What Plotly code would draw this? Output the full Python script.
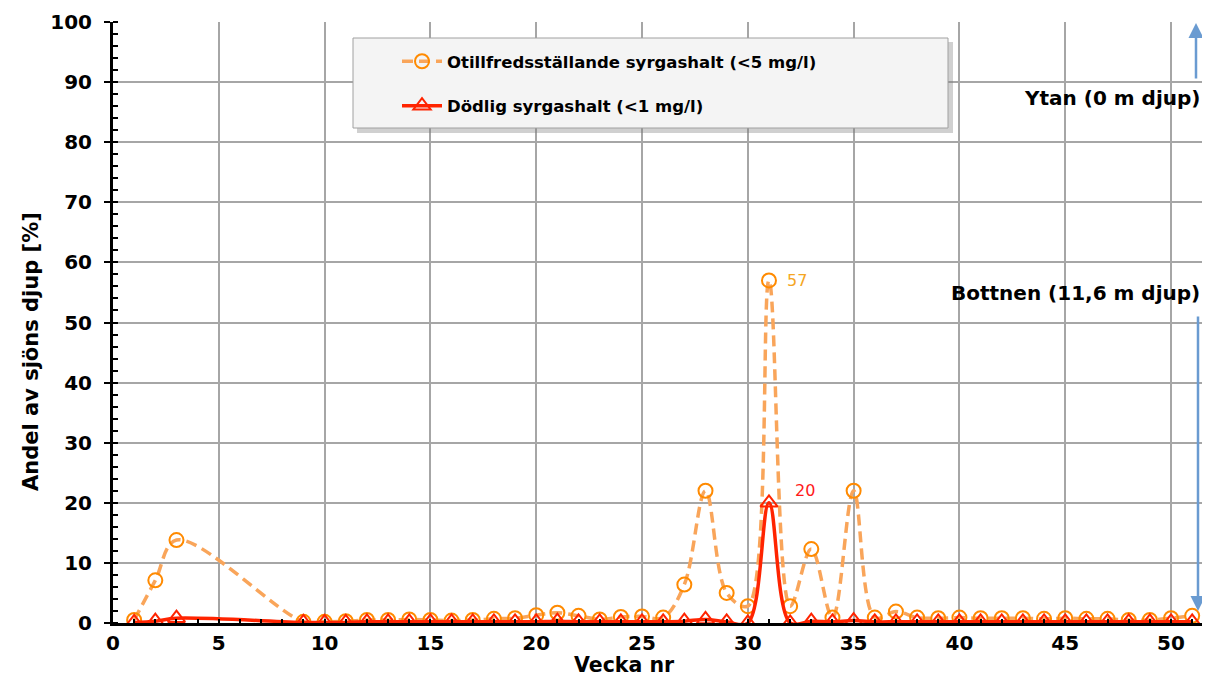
import plotly.graph_objects as go

weeks = [1, 2, 3, 9, 10, 11, 12, 13, 14, 15, 16, 17, 18, 19, 20, 21, 22, 23, 24, 25, 26,
         27, 28, 29, 30, 31, 32, 33, 34, 35, 36, 37, 38, 39, 40, 41, 42, 43, 44, 45, 46,
         47, 48, 49, 50, 51]
otillfreds = [0.5, 7.1, 13.8, 0.2, 0.2, 0.3, 0.5, 0.5, 0.6, 0.5, 0.4, 0.5, 0.7, 0.8, 1.3, 1.7,
              1.2, 0.6, 1.0, 1.1, 0.9, 6.4, 22.0, 5.0, 2.8, 57.0, 2.8, 12.3, 0.9, 22.0, 0.9,
              1.9, 0.9, 0.8, 0.9, 0.8, 0.8, 0.8, 0.7, 0.8, 0.7, 0.7, 0.5, 0.5, 0.8, 1.2]
dodlig = [0.1, 0.3, 0.8, 0.1, 0.1, 0.1, 0.2, 0.2, 0.2, 0.2, 0.2, 0.2, 0.2, 0.2, 0.2, 0.3,
          0.2, 0.2, 0.2, 0.2, 0.2, 0.3, 0.6, 0.2, 0.0, 20.0, 0.0, 0.3, 0.2, 0.4, 0.2,
          0.2, 0.2, 0.2, 0.2, 0.2, 0.2, 0.2, 0.2, 0.2, 0.2, 0.2, 0.2, 0.2, 0.2, 0.2]

name_o = "Otillfredsställande syrgashalt (<5 mg/l)"
name_d = "Dödlig syrgashalt (<1 mg/l)"
peak_o_label = "57"
peak_d_label = "20"
x_title = "Vecka nr"
y_title = "Andel av sjöns djup [%]"
FONT = "DejaVu Sans"

fig = go.Figure()
fig.add_trace(go.Scatter(
    x=weeks, y=otillfreds, name=name_o, mode="lines+markers",
    line=dict(color="#f9a55a", width=3.5, dash="11px,6px", shape="spline", smoothing=1),
    marker=dict(symbol="circle-open", size=14, color="#ff8a00", line=dict(width=2, color="#ff8a00")),
    legendgroup="a",
))
fig.add_trace(go.Scatter(
    x=weeks, y=dodlig, name=name_d, mode="lines+markers",
    line=dict(color="#ff2400", width=3.5, shape="spline", smoothing=1),
    marker=dict(symbol="triangle-up-open", size=15, color="#ff2400", line=dict(width=2, color="#ff2400")),
    legendgroup="b",
))

# page offset (body margin of 8px on each side)
OFF = 8
W, H = 1210 - 2 * OFF, 686 - 2 * OFF
PL, PR, PT, PB = 113, 1202, 22, 623  # plot area in page pixels
L, R, T, B = PL - OFF, W - (PR - OFF), PT - OFF, H - (PB - OFF)
pw, ph = PR - PL, PB - PT
XMAX = 51.7 * (PR - PL) / (1207 - PL)

def px(xp):
    return (xp - PL) / pw

def py(yp):
    return (PB - yp) / ph

shapes = [
    dict(type="rect", xref="paper", yref="paper", x0=px(357), x1=px(953), y0=py(133), y1=py(42),
         fillcolor="rgba(120,120,120,0.35)", line=dict(width=0), layer="above"),
    dict(type="rect", xref="paper", yref="paper", x0=px(353), x1=px(948), y0=py(128), y1=py(38),
         fillcolor="#f4f4f4", line=dict(color="#a0a0a0", width=1), layer="above"),
]

annotations = [
    dict(x=31, y=57, xref="x", yref="y", text=peak_o_label, showarrow=False, xanchor="left",
         xshift=16, font=dict(family=FONT, size=16, color="#f5a623")),
    dict(x=31, y=20, xref="x", yref="y", text=peak_d_label, showarrow=False, xanchor="left",
         xshift=24, yshift=12, font=dict(family=FONT, size=16, color="#ff1a1a")),
    dict(x=1.0, y=py(98), xref="paper", yref="paper", text="<b>Ytan (0 m djup)</b>", showarrow=False,
         xanchor="right", yanchor="middle", font=dict(family=FONT, size=20, color="black")),
    dict(x=1.0, y=py(293), xref="paper", yref="paper", text="<b>Bottnen (11,6 m djup)</b>", showarrow=False,
         xanchor="right", yanchor="middle", font=dict(family=FONT, size=20, color="black")),
    dict(x=px(1196), y=py(23), xref="paper", yref="paper", ax=0, ay=57, text="", showarrow=True,
         arrowhead=2, arrowsize=1.2, arrowwidth=2.5, arrowcolor="#6a9bd1"),
    dict(x=px(1198), y=py(611), xref="paper", yref="paper", ax=0, ay=-296, text="", showarrow=True,
         arrowhead=2, arrowsize=1.2, arrowwidth=2.5, arrowcolor="#6a9bd1"),
    dict(x=px(624), y=py(678), xref="paper", yref="paper", text="<b>" + x_title + "</b>", showarrow=False,
         xanchor="center", yanchor="bottom", borderpad=0,
         font=dict(family=FONT, size=20.5, color="black")),
    dict(x=px(31), y=py(351), xref="paper", yref="paper", text="<b>" + y_title + "</b>", showarrow=False,
         textangle=-90, xanchor="center", yanchor="middle", font=dict(family=FONT, size=21, color="black")),
]

fig.update_layout(
    width=W, height=H,
    margin=dict(l=L, r=R, t=T, b=B),
    paper_bgcolor="white", plot_bgcolor="white",
    font=dict(family=FONT, size=18, color="black"),
    showlegend=True,
    legend=dict(x=px(397), y=py(44), xanchor="left", yanchor="top", bgcolor="rgba(0,0,0,0)",
                font=dict(family=FONT, size=16.5, color="black", weight="bold"),
                tracegroupgap=20, traceorder="grouped", itemwidth=40),
    shapes=shapes,
    annotations=annotations,
    xaxis=dict(range=[0, XMAX], tickvals=[0, 5, 10, 15, 20, 25, 30, 35, 40, 45, 50],
               showgrid=True, gridcolor="#a6a6a6", gridwidth=2,
               showline=True, linecolor="black", linewidth=3,
               ticks="inside", ticklen=4, tickwidth=2, tickcolor="black",
               minor=dict(dtick=1, ticks="inside", ticklen=4, tickwidth=2, tickcolor="black", showgrid=False),
               tickfont=dict(family=FONT, size=20, weight="bold"),
               zeroline=False),
    yaxis=dict(range=[0, 100], dtick=10,
               showgrid=True, gridcolor="#a6a6a6", gridwidth=2,
               showline=True, linecolor="black", linewidth=3,
               ticks="outside", ticklen=6, tickwidth=2, tickcolor="black",
               minor=dict(dtick=2, ticks="inside", ticklen=5, tickwidth=2, tickcolor="black", showgrid=False),
               tickfont=dict(family=FONT, size=20, weight="bold"),
               ticklabelstandoff=8,
               zeroline=False),
)

fig.write_html("out.html")
